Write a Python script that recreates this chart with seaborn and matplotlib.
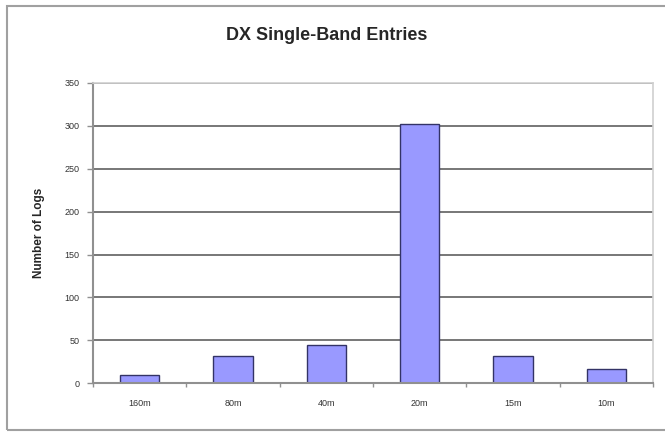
import seaborn as sns
import matplotlib.pyplot as plt
from matplotlib.patches import Rectangle

bands = ["160m", "80m", "40m", "20m", "15m", "10m"]
logs = [10, 32, 45, 302, 32, 16]

sns.set_style("white")
plt.rcParams["font.family"] = ["Liberation Sans", "DejaVu Sans"]

fig = plt.figure(figsize=(6.65, 4.32), dpi=100)
ax = fig.add_axes([0.14, 0.113, 0.842, 0.695])

sns.barplot(x=bands, y=logs, color="#9999ff", edgecolor="#333366",
            linewidth=1.0, width=0.42, saturation=1, ax=ax)

ax.set_ylim(0, 350)
ax.set_yticks(range(0, 351, 50))
ax.set_xlim(-0.5, 5.5)
ax.yaxis.grid(True, color="#606060", linewidth=1.2)
ax.set_axisbelow(True)

for s in ["top", "right"]:
    ax.spines[s].set_color("#d0d0d0")
    ax.spines[s].set_linewidth(1.2)
ax.spines["left"].set_color("#909090")
ax.spines["left"].set_linewidth(1.5)
ax.spines["bottom"].set_color("#909090")
ax.spines["bottom"].set_linewidth(1.5)

ax.tick_params(axis="y", left=True, length=4, width=1, color="#909090",
               labelsize=6.5, labelcolor="#333333", pad=6)
ax.tick_params(axis="x", bottom=False, labelsize=6.5, labelcolor="#333333", pad=8)
# small marks between the categories
ax.set_xticks([i + 0.5 for i in range(-1, 6)], minor=True)
ax.tick_params(axis="x", which="minor", bottom=True, length=3, width=1, color="#909090")

ax.set_ylabel("Number of Logs", fontsize=8.5, fontweight="bold", labelpad=14)
ax.set_xlabel("")
fig.suptitle("DX Single-Band Entries", x=0.492, y=0.938, fontsize=13, fontweight="bold")

# outer chart frame
fig.patches.append(Rectangle((7 / 665, 2 / 432), 700 / 665, 424 / 432,
                             transform=fig.transFigure, fill=False,
                             edgecolor="#a0a0a0", linewidth=1.5))

fig.savefig("out.png", dpi=100)
